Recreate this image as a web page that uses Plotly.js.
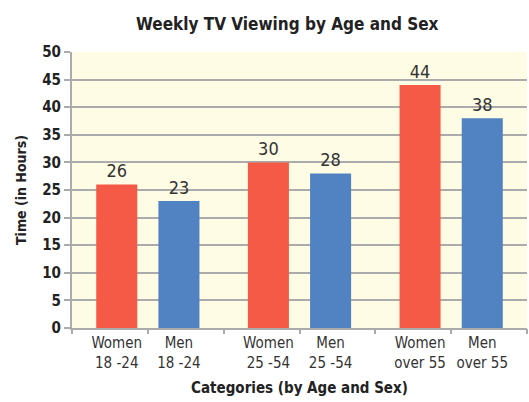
<!DOCTYPE html>
<html>
<head>
<meta charset="utf-8">
<script src="https://cdn.plot.ly/plotly-3.0.1.min.js"></script>
<style>html,body{margin:0;padding:0;background:#fff;}#chart{width:529px;height:402px;}</style>
</head>
<body>
<div id="chart"></div>
<script>
const groups = ['18 -24', '25 -54', 'over 55'];
const sexes = ['Women', 'Men'];
const women = [26, 30, 44];
const men = [23, 28, 38];
const yTicks = [0, 5, 10, 15, 20, 25, 30, 35, 40, 45, 50];

const FONT = '"DejaVu Sans Condensed", "Liberation Sans Narrow", sans-serif';
const RED = '#F55A46';
const BLUE = '#5182C2';
const GRID = '#ABABAB';

// label positions: under each bar (group index +/- half slot)
const slotOff = 0.205;
const tickvals = [];
const ticktext = [];
groups.forEach((g, i) => {
  tickvals.push(i - slotOff); ticktext.push(sexes[0] + '<br>' + g);
  tickvals.push(i + slotOff); ticktext.push(sexes[1] + '<br>' + g);
});

const common = {
  type: 'bar',
  x: groups,
  textposition: 'outside',
  cliponaxis: false,
  textfont: {family: FONT, size: 18, color: '#333'},
  hoverinfo: 'y'
};

const traces = [
  Object.assign({}, common, {name: sexes[0], y: women, text: women.map(String), marker: {color: RED}}),
  Object.assign({}, common, {name: sexes[1], y: men, text: men.map(String), marker: {color: BLUE}}),
  // invisible trace on second axis for boundary ticks
  {type: 'scatter', x: [-0.5, 2.5], y: [0, 0], xaxis: 'x2', mode: 'none', hoverinfo: 'skip', showlegend: false}
];

const layout = {
  width: 529, height: 402,
  margin: {l: 72, r: 2, t: 52, b: 74},
  paper_bgcolor: '#FFFFFF',
  plot_bgcolor: '#FEFCE4',
  showlegend: false,
  barmode: 'group',
  bargap: 0.18,
  bargroupgap: 0.34,
  title: {
    text: '<b>Weekly TV Viewing by Age and Sex</b>',
    font: {family: FONT, size: 17, color: '#222'},
    x: 0.473, xref: 'paper', xanchor: 'center',
    y: 0.94, yref: 'container', yanchor: 'middle'
  },
  xaxis: {
    type: 'category',
    range: [-0.5, 2.5],
    tickmode: 'array', tickvals: tickvals, ticktext: ticktext,
    ticks: '', showgrid: false, zeroline: false,
    showline: true, linecolor: GRID, linewidth: 2,
    tickfont: {family: FONT, size: 15, color: '#333'},
    title: {text: '<b>Categories (by Age and Sex)</b>', font: {family: FONT, size: 15, color: '#222'}, standoff: 12},
    fixedrange: true
  },
  xaxis2: {
    overlaying: 'x', anchor: 'y', side: 'bottom',
    range: [-0.5, 2.5], dtick: 0.5, tick0: -0.5,
    ticks: 'outside', ticklen: 5, tickwidth: 2, tickcolor: GRID,
    showticklabels: false, showgrid: false, zeroline: false, showline: false,
    fixedrange: true
  },
  yaxis: {
    range: [0, 50],
    tickmode: 'array', tickvals: yTicks,
    ticks: 'outside', ticklen: 6, tickwidth: 2, tickcolor: GRID,
    showgrid: true, gridcolor: GRID, gridwidth: 2,
    zeroline: false,
    showline: true, linecolor: GRID, linewidth: 2,
    tickfont: {family: FONT, size: 15, color: '#222', weight: 'bold'},
    title: {text: '<b>Time (in Hours)</b>', font: {family: FONT, size: 14, color: '#222'}, standoff: 12},
    fixedrange: true
  }
};

Plotly.newPlot('chart', traces, layout, {displayModeBar: false, staticPlot: true});
</script>
</body>
</html>
